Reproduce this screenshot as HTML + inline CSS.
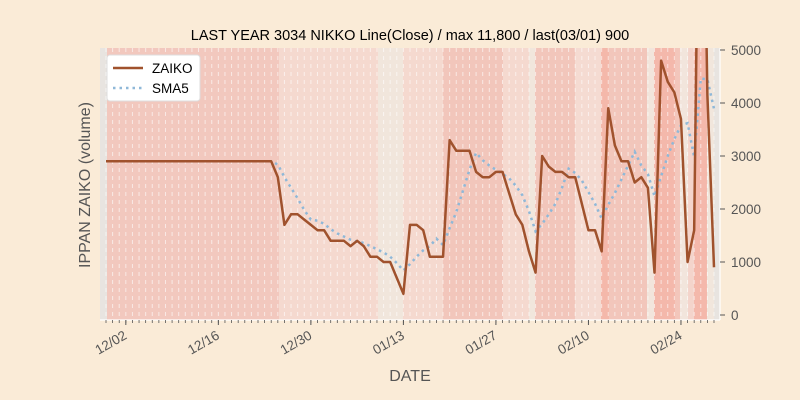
<!DOCTYPE html>
<html><head><meta charset="utf-8"><style>
body{margin:0;background:#faebd7;}
svg{display:block;font-family:"Liberation Sans","DejaVu Sans",sans-serif;}
</style></head><body>
<svg id="chart" width="800" height="400" viewBox="0 0 800 400" xmlns="http://www.w3.org/2000/svg">
<rect width="800" height="400" fill="#faebd7"/>
<text x="410" y="40" text-anchor="middle" font-size="14.5" fill="#000">LAST YEAR 3034 NIKKO Line(Close) / max 11,800 / last(03/01) 900</text>
<g id="bands"></g>
<g id="grid"></g>
<g id="series"></g>
<g id="axes"></g>
<text x="90" y="185" transform="rotate(-90 90 185)" text-anchor="middle" font-size="16" fill="#555">IPPAN ZAIKO (volume)</text>
<text x="410" y="381" text-anchor="middle" font-size="16" fill="#555">DATE</text>
<g>
<rect x="107" y="55" width="93" height="46" rx="3" fill="#fff" stroke="#ddd"/>
<line x1="113" y1="68" x2="143" y2="68" stroke="#a0522d" stroke-width="2.5"/>
<text x="152" y="73" font-size="13.5" fill="#000">ZAIKO</text>
<line x1="113" y1="88" x2="143" y2="88" stroke="#8fb8d8" stroke-width="2.5" stroke-dasharray="2.5,4"/>
<text x="152" y="93" font-size="13.5" fill="#000">SMA5</text>
</g>
</svg>
<script>
// data: daily values 11/29 .. 03/01
const zaiko = [2900,2900,2900,2900,2900,2900,2900,2900,2900,2900,2900,2900,2900,2900,2900,2900,2900,2900,2900,2900,2900,2900,2900,2900,2900,2900,
2600,1700,1900,1900,1800,1700,1600,1600,1400,1400,1400,1300,1400,1300,1100,1100,1000,1000,700,400,
1700,1700,1600,1100,1100,1100,3300,3100,3100,3100,2700,2600,2600,2700,2700,2300,1900,1700,1200,800,
3000,2800,2700,2700,2600,2600,2100,1600,1600,1200,3900,3200,2900,2900,2500,2600,2400,800,
4800,4400,4200,3700,1000,1600,11800,4150,900];
const tickLabels = ["12/02","12/16","12/30","01/13","01/27","02/10","02/24"];
const tickIndex = [3,17,31,45,59,73,87];
const yTicks = [0,1000,2000,3000,4000,5000];

const NS="http://www.w3.org/2000/svg";
const X0=106, DX=(714-106)/(zaiko.length-1);
const PL=100, PR=720, PT=48, PB=320;
const x = i => X0 + i*DX;
const y = v => 315 - v*0.053;
function mk(tag, attrs, parent){const e=document.createElementNS(NS,tag);for(const k in attrs)e.setAttribute(k,attrs[k]);parent.appendChild(e);return e;}

const bandDefs=[[100,107,"#e8e4e0"],[107,279,"#f2c8be"],[279,378,"#f5d9cf"],[378,403,"#f1e6dc"],[403,443,"#f5d9cf"],[443,503,"#f2c6bb"],[503,529,"#f5d9cf"],[529,535,"#f1e6dc"],[535,575,"#f2c6bb"],[575,601,"#f5dbd2"],[601,609,"#f4b8aa"],[609,647,"#f2c6bb"],[647,654,"#f2e5dc"],[654,675,"#f4b8ab"],[675,680,"#f3c6bb"],[680,688,"#f2e5dc"],[688,694,"#f4d4cb"],[694,707,"#f4b8ab"],[707,714,"#f1e6dc"],[714,720,"#e8e4e0"]];
const bands=document.getElementById('bands');
bandDefs.forEach(b=>{const r=mk('rect',{x:b[0],y:PT,width:b[1]-b[0],height:PB-PT,fill:b[2]},bands);

});

const grid=document.getElementById('grid');
for(let i=0;i<zaiko.length;i++){const l=mk('line',{x1:x(i),x2:x(i),y1:PT,y2:PB,stroke:"#fff","stroke-width":1,"stroke-dasharray":"4,4",opacity:0.6},grid);

}

const sma=[];for(let i=4;i<zaiko.length;i++){let s=0;for(let k=i-4;k<=i;k++)s+=zaiko[k];sma.push([i,s/5]);}
const series=document.getElementById('series');
const clip=mk('clipPath',{id:'pc'},series);mk('rect',{x:PL,y:PT,width:PR-PL,height:PB-PT},clip);
const sp=mk('polyline',{points:sma.map(p=>x(p[0])+","+y(p[1])).join(" "),fill:"none",stroke:"#8fb8d8","stroke-width":2.5,"stroke-dasharray":"2.5,4","clip-path":"url(#pc)"},series);


const zp=mk('polyline',{points:zaiko.map((v,i)=>x(i)+","+y(v)).join(" "),fill:"none",stroke:"#a0522d","stroke-width":2.5,"stroke-linejoin":"round","clip-path":"url(#pc)"},series);



const axes=document.getElementById('axes');
const sp1=mk('line',{x1:PL,x2:PR,y1:PB,y2:PB,stroke:"#fff","stroke-width":1.2},axes);


const sp2=mk('line',{x1:PR,x2:PR,y1:PT,y2:PB,stroke:"#fff","stroke-width":1.2},axes);


for(let i=0;i<zaiko.length;i++){const t=mk('line',{x1:x(i),x2:x(i),y1:PB,y2:PB+3,stroke:"#555","stroke-width":0.8},axes);

}
tickIndex.forEach((ti,j)=>{const xx=x(ti);
const t=mk('line',{x1:xx,x2:xx,y1:PB,y2:PB+5,stroke:"#555","stroke-width":1},axes);


const tx=mk('text',{x:xx+2,y:PB+18,"text-anchor":"end","font-size":13.5,fill:"#555",transform:`rotate(-30 ${xx+2} ${PB+18})`},axes);
tx.textContent=tickLabels[j];

});
yTicks.forEach(v=>{const yy=y(v);
const t=mk('line',{x1:PR,x2:PR+5,y1:yy,y2:yy,stroke:"#555","stroke-width":1},axes);


const tx=mk('text',{x:PR+11,y:yy+5,"font-size":13.5,fill:"#555"},axes);
tx.textContent=v;

});
</script>
</body></html>
